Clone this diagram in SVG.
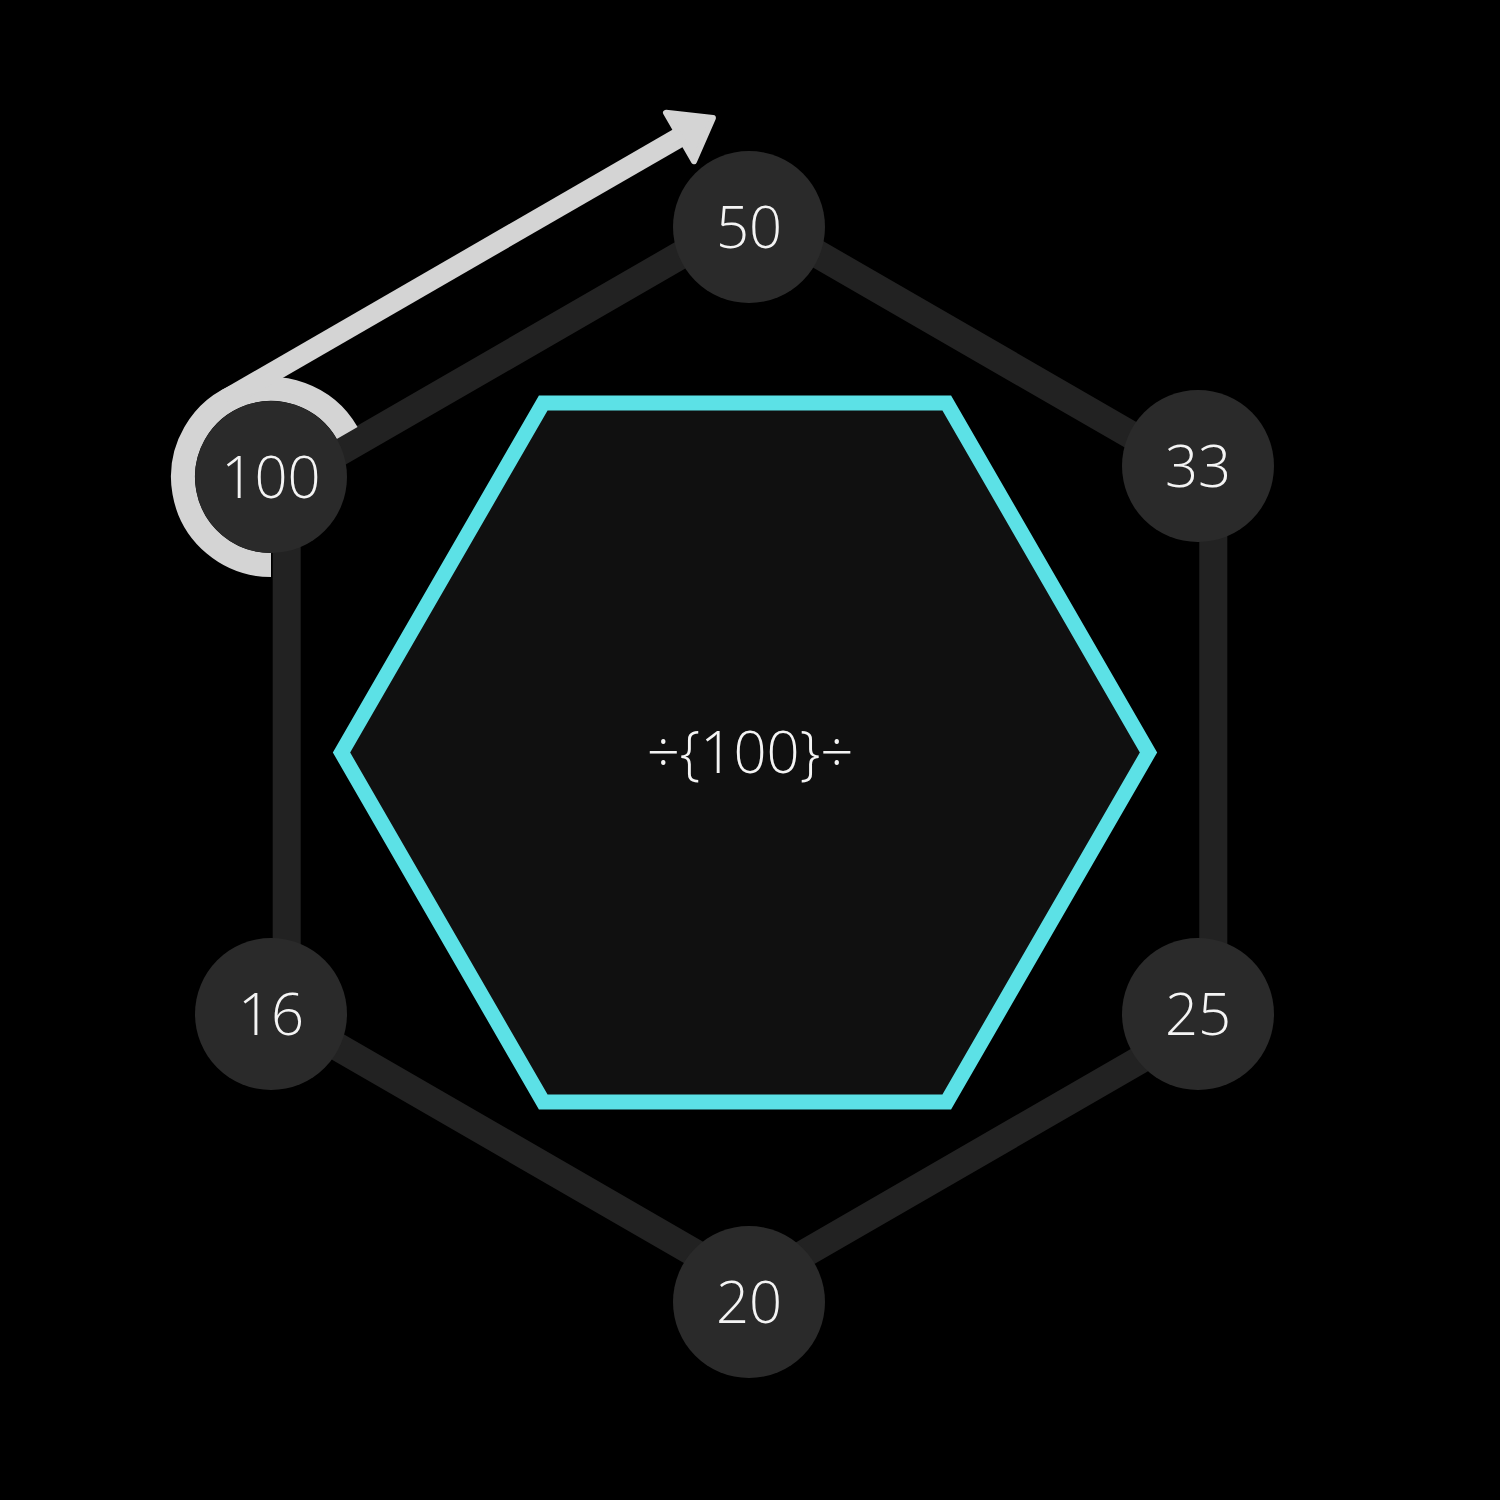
<svg xmlns="http://www.w3.org/2000/svg" width="1500" height="1500" viewBox="0 0 1500 1500">
  <defs>
    <style>
      .edge { fill: none; stroke: #222222; stroke-width: 28; stroke-linejoin: miter; }
      .node circle { fill: #2a2a2a; }
      .label { font-family: "Open Sans", "Liberation Sans", sans-serif; font-weight: 300; font-size: 58px; fill: #f4f4f4; text-anchor: middle; }
      .hex { fill: #101010; stroke: #5ce1e6; stroke-width: 15; stroke-linejoin: miter; }
      .pointer { fill: none; stroke: #d4d4d4; }
    </style>
    <marker id="arrowhead" markerUnits="userSpaceOnUse" viewBox="-6 -36 56 72" refX="0" refY="0" markerWidth="56" markerHeight="72" orient="auto">
      <path d="M0,-28 L38,0 L0,28 Z" fill="#d4d4d4" stroke="#d4d4d4" stroke-width="6" stroke-linejoin="round"/>
    </marker>
  </defs>
  <rect x="0" y="0" width="1500" height="1500" fill="#000000"/>

  <g id="connectors">
    <path class="edge" d="M750,215 L1213.3,482.5 L1213.3,1017.5 L750,1285 L286.7,1017.5 L286.7,482.5 Z"/>
    <path class="pointer" stroke-width="24" d="M347.2,433 A88,88 0 1 0 271,565"/>
    <path class="pointer" stroke-width="20" d="M226,399.1 L680,137" marker-end="url(#arrowhead)"/>
  </g>

  <g id="center">
    <polygon class="hex" points="1148.5,752.5 946.75,1102 543.25,1102 341.5,752.5 543.25,403 946.75,403"/>
    <text class="label" x="750" y="773">÷{100}÷</text>
  </g>

  <g id="node-50" class="node">
    <circle cx="749" cy="227" r="76"/>
    <text class="label" x="749" y="248">50</text>
  </g>
  <g id="node-33" class="node">
    <circle cx="1198" cy="466" r="76"/>
    <text class="label" x="1198" y="487">33</text>
  </g>
  <g id="node-25" class="node">
    <circle cx="1198" cy="1014" r="76"/>
    <text class="label" x="1198" y="1035">25</text>
  </g>
  <g id="node-20" class="node">
    <circle cx="749" cy="1302" r="76"/>
    <text class="label" x="749" y="1323">20</text>
  </g>
  <g id="node-16" class="node">
    <circle cx="271" cy="1014" r="76"/>
    <text class="label" x="271" y="1035">16</text>
  </g>
  <g id="node-100" class="node">
    <circle cx="271" cy="477" r="76"/>
    <text class="label" x="271" y="498">100</text>
  </g>
</svg>
